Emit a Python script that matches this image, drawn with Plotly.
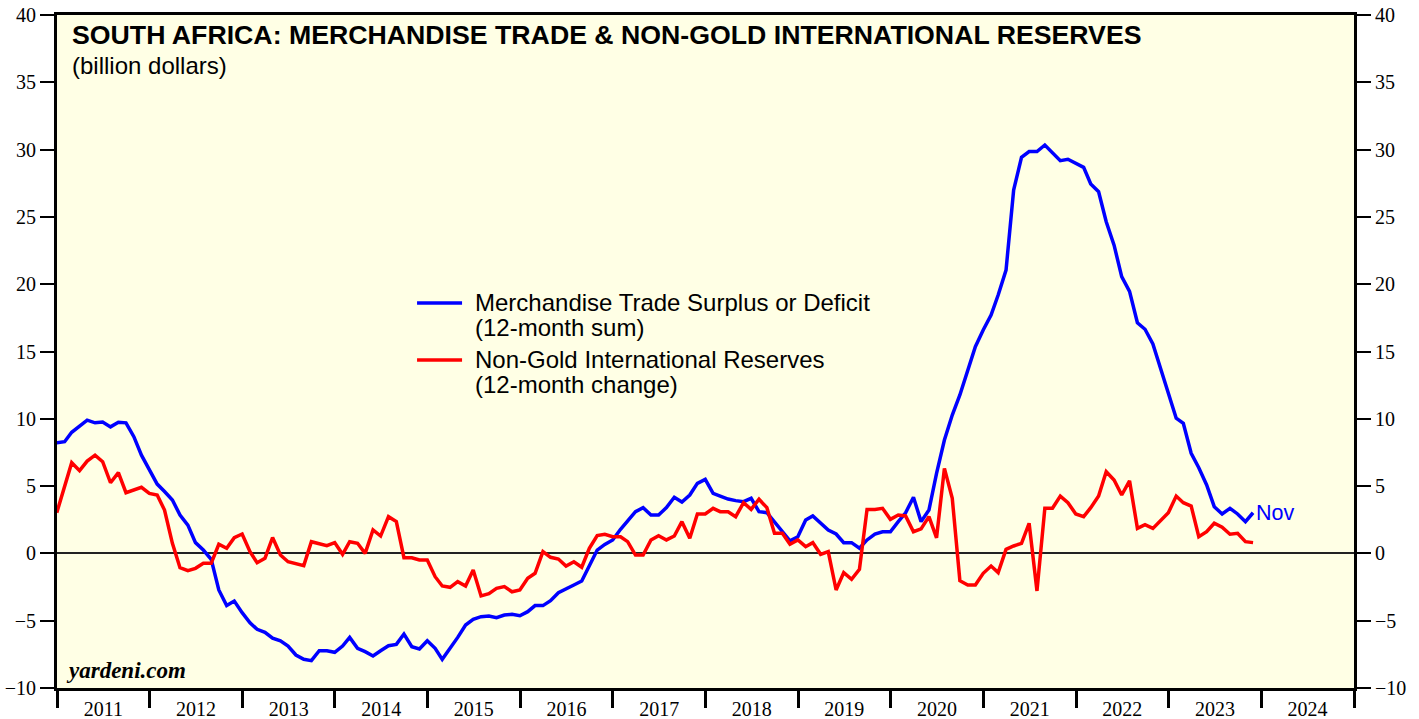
import pandas as pd
import plotly.graph_objects as go

# Monthly observations, Dec 2010 .. Nov 2023 (plotted at month end)
months = pd.period_range("2010-12", "2023-11", freq="M")

trade_surplus = [
    8.22, 8.3, 9.0, 9.46, 9.9, 9.7, 9.76, 9.4, 9.74, 9.7, 8.67, 7.3,
    6.2, 5.15, 4.6, 3.97, 2.85, 2.1, 0.8, 0.25, -0.44, -2.72, -3.88, -3.54,
    -4.4, -5.15, -5.64, -5.86, -6.3, -6.5, -6.88, -7.55, -7.87, -7.97, -7.23, -7.23,
    -7.35, -6.88, -6.24, -7.05, -7.3, -7.62, -7.23, -6.86, -6.76, -5.99, -6.93, -7.1,
    -6.49, -7.05, -7.87, -7.05, -6.24, -5.32, -4.9, -4.7, -4.65, -4.78, -4.58, -4.53,
    -4.63, -4.33, -3.88, -3.88, -3.51, -2.92, -2.67, -2.35, -2.05, -0.86, 0.25, 0.67,
    1.0, 1.79, 2.41, 3.1, 3.4, 2.85, 2.85, 3.4, 4.17, 3.82, 4.34, 5.2,
    5.5, 4.46, 4.26, 4.04, 3.92, 3.84, 4.09, 3.1, 3.02, 2.36, 1.61, 0.94,
    1.24, 2.48, 2.78, 2.24, 1.74, 1.44, 0.8, 0.8, 0.38, 1.0, 1.44, 1.61,
    1.61, 2.36, 3.02, 4.17, 2.36, 3.22, 5.95, 8.42, 10.28, 11.77, 13.5, 15.36,
    16.6, 17.71, 19.2, 21.05, 27.0, 29.43, 29.85, 29.85, 30.34, 29.77, 29.18, 29.28,
    28.98, 28.68, 27.44, 26.87, 24.64, 22.9, 20.56, 19.47, 17.14, 16.65, 15.56, 13.75,
    12.01, 10.04, 9.67, 7.44, 6.37, 5.08, 3.47, 2.93, 3.35, 2.93, 2.36, 3.02,
]

reserves_change = [
    3.02, 4.91, 6.74, 6.15, 6.86, 7.3, 6.81, 5.25, 6.0, 4.51, 4.71, 4.91,
    4.46, 4.34, 3.22, 0.75, -1.06, -1.28, -1.11, -0.74, -0.74, 0.68, 0.38, 1.17,
    1.44, 0.13, -0.69, -0.36, 1.18, -0.12, -0.62, -0.79, -0.91, 0.87, 0.7, 0.57,
    0.8, -0.07, 0.87, 0.75, 0.0, 1.74, 1.29, 2.73, 2.36, -0.32, -0.32, -0.49,
    -0.49, -1.73, -2.42, -2.52, -2.1, -2.42, -1.23, -3.16, -2.99, -2.6, -2.47, -2.85,
    -2.72, -1.85, -1.48, 0.13, -0.29, -0.42, -0.94, -0.62, -1.03, 0.38, 1.32, 1.42,
    1.24, 1.24, 0.87, -0.12, -0.12, 1.0, 1.32, 1.0, 1.29, 2.36, 1.12, 2.93,
    2.93, 3.35, 3.1, 3.1, 2.73, 3.77, 3.27, 4.02, 3.4, 1.49, 1.49, 0.68,
    1.0, 0.5, 0.8, -0.07, 0.13, -2.72, -1.43, -1.92, -1.18, 3.27, 3.27, 3.35,
    2.53, 2.85, 2.78, 1.61, 1.82, 2.73, 1.16, 6.32, 4.09, -2.03, -2.35, -2.35,
    -1.48, -0.94, -1.43, 0.3, 0.55, 0.75, 2.24, -2.79, 3.35, 3.35, 4.26, 3.77,
    2.93, 2.73, 3.4, 4.26, 6.07, 5.45, 4.34, 5.39, 1.86, 2.14, 1.86, 2.43,
    3.02, 4.26, 3.77, 3.52, 1.24, 1.61, 2.24, 1.94, 1.42, 1.49, 0.87, 0.8,
]

y_ticks = [-10, -5, 0, 5, 10, 15, 20, 25, 30, 35, 40]

title_text = "SOUTH AFRICA: MERCHANDISE TRADE & NON-GOLD INTERNATIONAL RESERVES"
subtitle_text = "(billion dollars)"
blue_name = ["Merchandise Trade Surplus or Deficit", "(12-month sum)"]
red_name = ["Non-Gold International Reserves", "(12-month change)"]
last_label = "Nov"

BLUE = "#0000FF"
RED = "#FF0000"

dates = months.to_timestamp(how="end").normalize()

fig = go.Figure()
fig.add_trace(go.Scatter(x=dates, y=trade_surplus, mode="lines", name=" ".join(blue_name),
                         line=dict(color=BLUE, width=3.5)))
fig.add_trace(go.Scatter(x=dates, y=reserves_change, mode="lines", name=" ".join(red_name),
                         line=dict(color=RED, width=3.5)))
# invisible trace to drive the right-hand axis
fig.add_trace(go.Scatter(x=[dates[0]], y=[None], yaxis="y2", showlegend=False,
                         hoverinfo="skip"))

serif = "Liberation Serif, Times New Roman, serif"
sans = "Liberation Sans, Arial, sans-serif"

fig.update_layout(
    width=1419, height=719,
    margin=dict(l=57, r=65, t=15, b=31, autoexpand=False),
    paper_bgcolor="white",
    plot_bgcolor="#FFFFE5",
    showlegend=False,
    xaxis=dict(
        range=["2011-01-01", "2025-01-01"], type="date", automargin=False,
        tick0="2011-01-01", dtick="M12", tickformat="%Y", ticklabelmode="period",
        ticks="outside", ticklen=17, tickwidth=3, tickcolor="black",
        ticklabelstandoff=-16,
        showline=True, linewidth=3, linecolor="black", mirror=True,
        showgrid=False, zeroline=False,
        tickfont=dict(family=serif, size=20, color="black"),
    ),
    yaxis=dict(
        range=[-10, 40], tickvals=y_ticks, ticks="outside", ticklen=14, tickwidth=2,
        tickcolor="black", showline=True, linewidth=3, linecolor="black",
        showgrid=False, zeroline=True, zerolinecolor="#222222", zerolinewidth=1.5,
        automargin=False, tickfont=dict(family=serif, size=20, color="black"),
    ),
    yaxis2=dict(
        range=[-10, 40], tickvals=y_ticks, overlaying="y", side="right",
        ticks="outside", ticklen=14, tickwidth=2, tickcolor="black",
        showline=True, linewidth=3, linecolor="black",
        showgrid=False, zeroline=False, automargin=False,
        tickfont=dict(family=serif, size=20, color="black"),
    ),
)

fig.add_annotation(xref="paper", yref="paper", x=0.010, y=0.970, xanchor="left", yanchor="middle",
                   text="<b>" + title_text + "</b>", showarrow=False,
                   font=dict(family=sans, size=26.7, color="black"))
fig.add_annotation(xref="paper", yref="paper", x=0.010, y=0.925, xanchor="left", yanchor="middle",
                   text=subtitle_text, showarrow=False,
                   font=dict(family=sans, size=24, color="black"))
fig.add_annotation(xref="paper", yref="paper", x=0.0057, y=0.0265, xanchor="left", yanchor="middle",
                   text="<b><i>yardeni.com</i></b>", showarrow=False,
                   font=dict(family=serif, size=23, color="black"))
fig.add_annotation(x=dates[-1], y=trade_surplus[-1], xanchor="left", yanchor="middle",
                   xshift=1, text=last_label, showarrow=False,
                   font=dict(family=sans, size=21.5, color=BLUE))

# legend (drawn in the plot-area frame)
legend_rows = [(BLUE, blue_name, 0.5721, 0.5364), (RED, red_name, 0.4874, 0.4517)]
for color, lines, y1, y2 in legend_rows:
    fig.add_shape(type="line", xref="paper", yref="paper", x0=0.2776, x1=0.3123,
                  y0=y1, y1=y1, line=dict(color=color, width=3.5))
    for txt, yy in zip(lines, (y1, y2)):
        fig.add_annotation(xref="paper", yref="paper", x=0.3207, y=yy, xanchor="left",
                           yanchor="middle", text=txt, showarrow=False,
                           font=dict(family=sans, size=24, color="black"))

# remove the browser's default 8px body margin so the figure fills the window exactly
fig.write_html("out.html", config={"displayModeBar": False},
               post_script="document.body.style.margin='0';document.body.style.overflow='hidden';")
